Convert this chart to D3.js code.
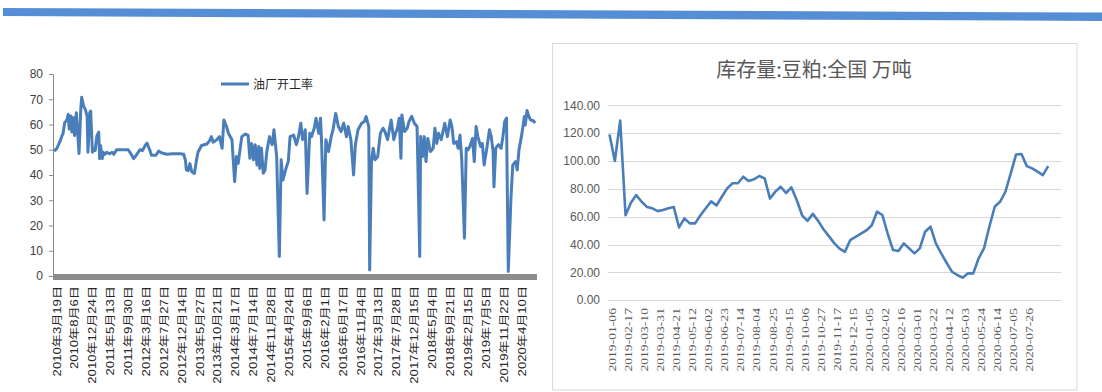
<!DOCTYPE html>
<html><head><meta charset="utf-8">
<script src="https://cdn.jsdelivr.net/npm/d3@7"></script>
<style>body{margin:0;background:#fff}svg{display:block}</style>
</head><body><svg id="c" width="1102" height="392"></svg>
<script>
// ---------- Left chart data: 油厂开工率 (weekly category index -> %) ----------
const oilTickLabels = ["2010年3月19日","2010年8月6日","2010年12月24日","2011年5月13日","2011年9月30日",
  "2012年3月16日","2012年7月27日","2012年12月14日","2013年5月27日","2013年10月21日","2014年3月17日",
  "2014年7月14日","2014年11月28日","2015年4月24日","2015年9月6日","2016年2月1日","2016年6月17日",
  "2016年11月4日","2017年3月13日","2017年7月28日","2017年12月15日","2018年5月4日","2018年9月21日",
  "2019年2月15日","2019年7月5日","2019年11月22日","2020年4月10日"];
const oilTickEvery = 20;
const oilIndex = [0,3,7,9,10,12,14,16,17,19,20,22,23,25,28,30,31,33,35,37,38,40,41,43,44,46,48,50,51,52,54,55,57,59,62,65,67,70,76,83,86,89,92,96,99,102,104,107,109,114,117,120,126,133,141,145,147,148,150,152,154,157,159,161,165,169,171,174,176,178,182,185,188,190,193,195,199,202,204,206,210,214,217,219,221,223,225,227,229,230,232,234,236,238,241,244,246,249,252,254,256,260,262,264,268,271,273,276,278,281,283,286,288,291,293,296,298,299,302,304,307,310,312,315,318,321,324,327,329,332,335,337,340,344,347,349,352,353,355,357,359,362,365,368,370,373,375,377,380,382,384,386,388,389,392,395,397,400,403,406,409,410,412,414,416,418,421,424,426,428,430,433,435,437,440,443,445,447,450,452,454,456,459,461,463,465,468,470,472,474,477,479,481,484,487,489,491,492,494,497,500,502,504,506,508,511,513,516,518,520,523,526,527,529,531,533,536,538];
const oilRates = [49.5,50.4,53.6,55.6,56.2,60.8,61.4,64,58.2,63.4,57,62.7,55.6,64.7,48.5,66.6,70.8,67.3,66,63.4,49,64.7,65.3,49,50.4,49.7,55.6,57,46.5,51.7,46.5,49,48.2,49,48.4,49,48.2,50,50,50,48.4,46.5,47.8,50,49.7,51.7,52.6,50,47.8,47.8,49.5,48.8,48.2,48.4,48.4,48.2,45.8,42,41.7,44.5,41.3,40.6,45.2,49,51.7,52.1,52.3,53.6,55.2,53,54,55.2,50.6,61.8,59.2,56.5,54,37.4,47.3,44.6,55.2,56.2,55.8,46.6,52.5,46,52,44,51.3,42.6,50.6,40.7,42,49.3,55.2,52,57.9,47.3,7.7,46,38,43.3,45.3,55.2,55.8,52,54.5,60.5,54,57.9,32.7,56.5,55.2,58.5,62.5,56.5,62.5,55.2,22.2,54,49.3,55.2,57.9,64.4,59.2,57.2,60.5,55.2,59.2,54,40,52,57.9,60.5,61.2,63.2,59.2,2.4,45.3,50.6,46,47.3,56.5,58.5,57.2,54,57.9,61.8,54,56.5,58.5,62.5,46.6,63.8,57.2,58.5,61.2,63.2,60.5,59.2,7.7,55.2,47.3,55.2,45.3,54.5,49.3,50.6,58.5,52.5,56.5,54,57.2,60.5,55.2,61.8,59.2,52.5,53.2,50.6,55.8,46,15,50.6,50,51.3,54.5,45.3,59.2,55.2,51.3,52.5,44,50.6,57.9,55.2,49.3,35.3,50.6,52,50.6,55.2,61.2,62.5,1.8,30.7,43.9,45.3,42,50,55.8,63.2,59.8,65.5,63.2,61.8,61.5,60.5];
const oilYTicks = [0,10,20,30,40,50,60,70,80];
const oilSeriesName = "油厂开工率";

// ---------- Right chart data: 库存量:豆粕:全国 万吨 ----------
const stockTitle = "库存量:豆粕:全国 万吨";
const stockDates = ["2019-01-06","2019-01-20","2019-02-03","2019-02-17","2019-02-24","2019-03-03",
  "2019-03-10","2019-03-17","2019-03-24","2019-03-31","2019-04-07","2019-04-14","2019-04-21","2019-04-28","2019-05-05",
  "2019-05-12","2019-05-19","2019-05-26","2019-06-02","2019-06-09","2019-06-16","2019-06-23","2019-06-30","2019-07-07",
  "2019-07-14","2019-07-21","2019-07-28","2019-08-04","2019-08-11","2019-08-18","2019-08-25","2019-09-01","2019-09-08",
  "2019-09-15","2019-09-22","2019-09-29","2019-10-06","2019-10-13","2019-10-20","2019-10-27","2019-11-03","2019-11-10",
  "2019-11-17","2019-11-24","2019-12-01","2019-12-15","2019-12-22","2019-12-29","2020-01-05","2020-01-12","2020-01-19",
  "2020-02-02","2020-02-06","2020-02-09","2020-02-16","2020-02-20","2020-02-23","2020-03-01","2020-03-08","2020-03-15",
  "2020-03-22","2020-03-29","2020-04-05","2020-04-12","2020-04-19","2020-04-26","2020-05-03","2020-05-10","2020-05-17",
  "2020-05-24","2020-05-31","2020-06-07","2020-06-14","2020-06-21","2020-06-28","2020-07-05","2020-07-12","2020-07-19",
  "2020-07-26","2020-08-02","2020-08-09","2020-08-16","2020-08-23"];
const stockValues = [119,100,129,61,70,75.5,70.7,67,66,64,64.8,66,67,52.3,58.8,55.2,55.2,61,66,71,68,74.3,80.3,84,84,88.7,85.6,86.8,89.2,87.5,73,78,81.5,77,81,72,61,57,62,57,51,46,41,37,34.7,43.2,45.5,47.8,50.1,53.7,63.6,61.2,47.8,36,35.3,40.8,37.2,33.6,37.2,49.2,52.8,40.8,33.6,26.9,20.5,18.1,16.2,19.3,19.3,30.1,37.3,52.8,67.1,70.7,77.9,91.1,104.7,105,96.3,94.7,92.3,89.9,96.3];
const stockYTicks = [0,20,40,60,80,100,120,140];
const stockTickEvery = 3;

const svg = d3.select("#c");
const blue = "#4a7ebb";
const sans = "'Liberation Sans','Noto Sans CJK SC',sans-serif";

// top banner
svg.append("polygon").attr("points","3,8 1102,12.5 1102,21 3,16").attr("fill","#558ed5");

// ---------- LEFT CHART ----------
const L = {x0:54, x1:519, yTop:74, yBot:276};
const lx = d3.scaleLinear().domain([0, (oilTickLabels.length-1)*oilTickEvery]).range([L.x0, L.x1]);
const ly = d3.scaleLinear().domain([0,80]).range([L.yBot, L.yTop]);

const lyAxis = svg.append("g").attr("transform",`translate(53,0)`)
  .call(d3.axisLeft(ly).tickValues(oilYTicks).tickSize(4).tickPadding(6));
lyAxis.select(".domain").attr("stroke","#8a8a8a");
lyAxis.selectAll(".tick line").attr("stroke","#8a8a8a");
lyAxis.selectAll("text").attr("font-family",sans).attr("font-size",12).attr("fill","#404040");

// thick grey x axis band
svg.append("rect").attr("x",53).attr("y",274).attr("width",537-53).attr("height",6).attr("fill","#8c8c8c");

// x labels
const lxTicks = oilTickLabels.map((t,i)=>({t, v:i*oilTickEvery}));
svg.append("g").selectAll("text").data(lxTicks).join("text")
  .attr("transform",d=>`translate(${lx(d.v)},286) rotate(-90) scale(1.25,1)`)
  .attr("text-anchor","end").attr("dy","0.62em")
  .attr("font-family",sans).attr("font-size",10.5).attr("fill","#262626")
  .text(d=>d.t);

// line
const oilData = oilIndex.map((w,i)=>({w, v:oilRates[i]}));
svg.append("path").datum(oilData)
  .attr("fill","none").attr("stroke",blue).attr("stroke-width",3).attr("stroke-linejoin","round")
  .attr("d", d3.line().x(d=>lx(d.w)).y(d=>ly(d.v)));

// legend
svg.append("line").attr("x1",221).attr("x2",249).attr("y1",84).attr("y2",84)
  .attr("stroke",blue).attr("stroke-width",3);
svg.append("text").attr("x",253).attr("y",89).attr("font-family",sans).attr("font-size",12)
  .attr("fill","#262626").text(oilSeriesName);

// ---------- RIGHT CHART ----------
svg.append("rect").attr("x",552.5).attr("y",43.5).attr("width",1077-552.5).attr("height",390-43.5)
  .attr("fill","none").attr("stroke","#d9d9d9");
svg.append("text").attr("x",814).attr("y",77).attr("text-anchor","middle")
  .attr("font-family","'Noto Sans CJK SC',sans-serif").attr("font-size",20).attr("fill","#595959")
  .text(stockTitle);

const R = {gx0:608, gx1:1061, yTop:105.3, yBot:300.2};
const step = 5.35;
const rx = d3.scalePoint().domain(stockDates).range([609.5, 609.5 + step*(stockDates.length-1)]);
const ry = d3.scaleLinear().domain([0,140]).range([R.yBot, R.yTop]);

svg.append("g").selectAll("line").data(stockYTicks).join("line")
  .attr("x1",R.gx0).attr("x2",R.gx1).attr("y1",d=>Math.round(ry(d))+0.5).attr("y2",d=>Math.round(ry(d))+0.5)
  .attr("stroke","#d9d9d9");
svg.append("g").selectAll("text").data(stockYTicks).join("text")
  .attr("x",600).attr("y",d=>ry(d)).attr("dy","0.35em").attr("text-anchor","end")
  .attr("font-family",sans).attr("font-size",12).attr("fill","#595959")
  .text(d=>d3.format(".2f")(d));

const rxTicks = stockDates.filter((d,i)=>i%stockTickEvery===0 && i < stockDates.length-2);
svg.append("g").selectAll("text").data(rxTicks).join("text")
  .attr("transform",d=>`translate(${rx(d)},308) rotate(-90) scale(1.3,1)`)
  .attr("text-anchor","end").attr("dy","0.62em")
  .attr("font-family","'Liberation Serif','Noto Sans CJK SC',serif").attr("font-size",10.5).attr("fill","#595959")
  .text(d=>d);

svg.append("path").datum(stockValues.map((v,i)=>({d:stockDates[i], v})))
  .attr("fill","none").attr("stroke",blue).attr("stroke-width",2.6).attr("stroke-linejoin","round")
  .attr("d", d3.line().x(d=>rx(d.d)).y(d=>ry(d.v)));
</script></body></html>
